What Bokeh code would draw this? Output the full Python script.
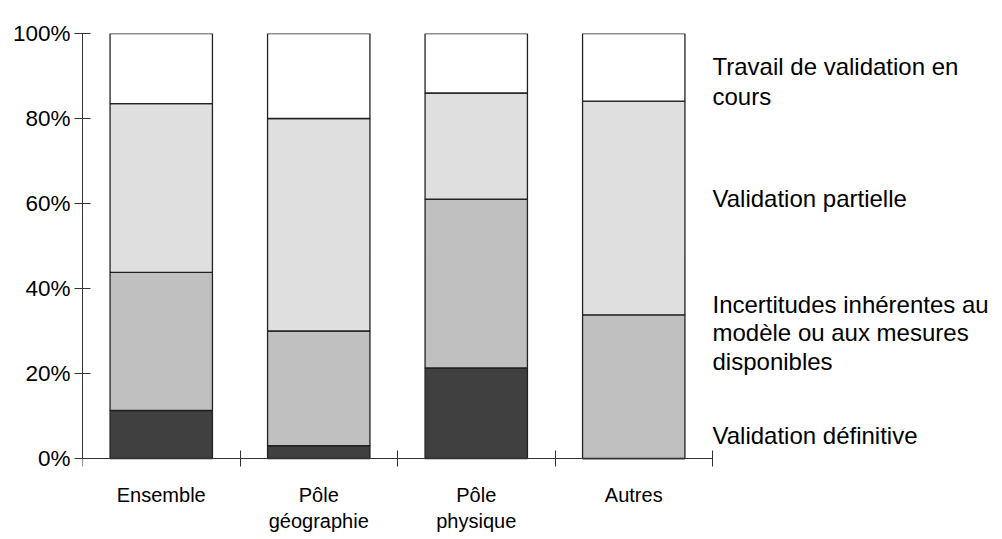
from bokeh.plotting import figure
from bokeh.models import FixedTicker, Range1d, ColumnDataSource
from bokeh.core.properties import value
from bokeh.embed import file_html
from bokeh.resources import INLINE

categories = ["Ensemble", "Pôle\ngéographie", "Pôle\nphysique", "Autres"]
series = ["Validation définitive", "Incertitudes", "Validation partielle", "Travail en cours"]
definitive = [11.3, 3.0, 21.3, 0.0]
incertitudes = [32.5, 27.0, 39.7, 33.8]
partielle = [39.7, 50.0, 25.0, 50.3]
en_cours = [16.5, 20.0, 14.0, 15.9]
y_ticks = [0, 20, 40, 60, 80, 100]
legend_text = ["Travail de validation en", "cours", "Validation partielle",
               "Incertitudes inhérentes au", "modèle ou aux mesures", "disponibles",
               "Validation définitive"]
legend_y = [92.2, 85.2, 61.2, 36.2, 29.6, 22.8, 5.4]

colors = ["#404040", "#C0C0C0", "#DFDFDF", "#FFFFFF"]
n = len(categories)
xs = [i + 0.5 for i in range(n)]

W, H = 998, 539
LEFT, TOP = 82, 33
FRAME_W = W - LEFT
BARS_W = 630            # pixel width of the category area
PLOT_H = 425            # pixel height from 0% to 100%
x_end = n * FRAME_W / BARS_W
y_lo = -100 * (H - TOP - PLOT_H) / PLOT_H

src = ColumnDataSource(dict(x=xs, d=definitive, i=incertitudes, p=partielle, c=en_cours))

p = figure(width=W, height=H, x_range=Range1d(0, x_end), y_range=Range1d(y_lo, 100),
           output_backend="svg", toolbar_location=None,
           min_border_left=LEFT, min_border_top=TOP, min_border_right=0, min_border_bottom=0)
p.outline_line_color = None
p.xgrid.visible = False
p.ygrid.visible = False

p.vbar_stack(["d", "i", "p", "c"], x="x", width=0.65, source=src, fill_color=colors,
             line_color="#222222", line_width=1.3)

ax = p.yaxis[0]
ax.bounds = (0, 100)
ax.ticker = FixedTicker(ticks=y_ticks)
ax.major_label_overrides = {t: f"{t}%" for t in y_ticks}
ax.major_tick_in = 8
ax.major_tick_out = 8
ax.minor_tick_line_color = None
ax.axis_line_color = "#333333"
ax.major_tick_line_color = "#333333"
ax.major_label_text_font = "Liberation Sans"
ax.major_label_text_font_size = "22.5px"
ax.major_label_text_color = "#000000"
ax.major_label_standoff = 4

bx = p.xaxis[0]
bx.fixed_location = 0
bx.bounds = (0, n)
bx.ticker = FixedTicker(ticks=xs, minor_ticks=list(range(n + 1)))
bx.major_label_overrides = {x: c for x, c in zip(xs, categories)}
bx.major_tick_in = 0
bx.major_tick_out = 0
bx.minor_tick_in = 8
bx.minor_tick_out = 8
bx.minor_tick_line_color = "#333333"
bx.axis_line_color = "#333333"
bx.major_label_text_font = "Liberation Sans"
bx.major_label_text_font_size = "20px"
bx.major_label_text_color = "#000000"
bx.major_label_standoff = 17

lsrc = ColumnDataSource(dict(x=[n] * len(legend_text), y=legend_y, t=legend_text))
p.text(x="x", y="y", text="t", source=lsrc, text_align="left", text_baseline="middle",
       text_font=value("Liberation Sans"), text_font_size="24px", text_color="#000000")

open("out.html", "w").write(file_html(p, INLINE))
